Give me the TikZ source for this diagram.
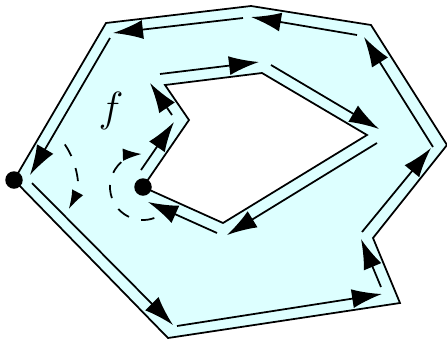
\documentclass[tikz,border=0pt]{standalone}
\usepackage{xcolor}
\usepackage{tikz}
\usetikzlibrary{arrows.meta}
\definecolor{annulus}{RGB}{221,255,255}

\begin{document}
\begin{tikzpicture}[x=0.1mm, y=-0.1mm, font=\large, line width=0.5pt,
region/.style={draw,fill=annulus,even odd rule},
arr/.style={-{Latex[length=3mm,width=1.9mm]}},
turn/.style={dash pattern=on 3.8pt off 3.6pt,-{Latex[length=1.9mm,width=1.25mm]}},
dot/.style={circle,fill,inner sep=0pt,minimum size=1.75mm}]
\useasboundingbox (0,0) rectangle (447,340);
% outer boundary
\coordinate (p1) at (106,23); \coordinate (p2) at (251,6); \coordinate (p3) at (371,25); \coordinate (p4) at (447,145);
\coordinate (p5) at (373,238); \coordinate (p6) at (400,303); \coordinate (p7) at (168,338); \coordinate (p8) at (14,180);
% hole
\coordinate (q1) at (165,85); \coordinate (q2) at (262,73); \coordinate (q3) at (367,135);
\coordinate (q4) at (223,223); \coordinate (q5) at (143,187); \coordinate (q6) at (189,120);
\draw[region] (p1)--(p2)--(p3)--(p4)--(p5)--(p6)--(p7)--(p8)--cycle (q1)--(q2)--(q3)--(q4)--(q5)--(q6)--cycle;
% arrows along the outer boundary
\coordinate (os1) at (433,147); \coordinate (oe1) at (364,37);
\coordinate (os2) at (357,35); \coordinate (oe2) at (251,17);
\coordinate (os3) at (243,18); \coordinate (oe3) at (113,33);
\coordinate (os4) at (110,38); \coordinate (oe4) at (30,175);
\coordinate (os5) at (32,183); \coordinate (oe5) at (173,325);
\coordinate (os6) at (177,326); \coordinate (oe6) at (382,294);
\coordinate (os7) at (381,287); \coordinate (oe7) at (361,239);
\coordinate (os8) at (362,232); \coordinate (oe8) at (431,148);
\draw[arr] (os1)--(oe1); \draw[arr] (os2)--(oe2); \draw[arr] (os3)--(oe3); \draw[arr] (os4)--(oe4);
\draw[arr] (os5)--(oe5); \draw[arr] (os6)--(oe6); \draw[arr] (os7)--(oe7); \draw[arr] (os8)--(oe8);
% arrows along the hole
\coordinate (is1) at (172,115); \coordinate (ie1) at (150,83);
\coordinate (is2) at (160,74); \coordinate (ie2) at (259,62);
\coordinate (is3) at (271,65); \coordinate (ie3) at (379,129);
\coordinate (is4) at (377,143); \coordinate (ie4) at (227,235);
\coordinate (is5) at (217,233); \coordinate (ie5) at (148,202);
\coordinate (is6) at (141,170); \coordinate (ie6) at (174,122);
\draw[arr] (is1)--(ie1); \draw[arr] (is2)--(ie2); \draw[arr] (is3)--(ie3);
\draw[arr] (is4)--(ie4); \draw[arr] (is5)--(ie5); \draw[arr] (is6)--(ie6);
\node[dot] (base) at (p8) {};
\node[dot] (hub) at (q5) {};
\draw[turn] (base.center) ++(-35:62) arc[start angle=-35,end angle=28,radius=62];
\draw[turn] (hub.center) ++(70:33) arc[start angle=70,end angle=268,radius=33];
\node (f) at (111,111) {$f$};
\end{tikzpicture}
\end{document}
